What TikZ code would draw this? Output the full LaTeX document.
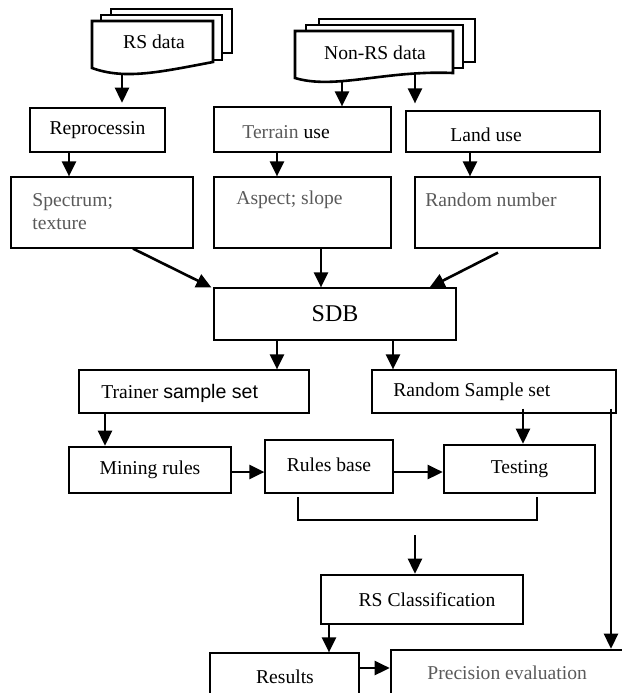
\documentclass[tikz,border=0pt]{standalone}
\usepackage{fontspec}
\setmainfont{Liberation Serif}
\newfontfamily\sampfont{Liberation Sans}
\usetikzlibrary{arrows.meta}
\usepackage{xcolor}
\definecolor{mGrey}{HTML}{5A5A5A}
\tikzset{
  font=\fontsize{9.8}{11.5}\selectfont,
  >={Triangle[length=7.5pt,width=7pt]},
  thinbox/.style={draw, line width=0.6pt, rectangle, inner sep=0pt},
  thickbox/.style={draw, line width=1.3pt, rectangle, inner sep=0pt},
  page/.style={draw, line width=1.3pt, fill=white},
  txt/.style={inner sep=0pt},
  gtxt/.style={inner sep=0pt, text=mGrey, align=left},
  flow/.style={->, line width=1.3pt}
}

\begin{document}
\begin{tikzpicture}[x=0.5pt, y=-0.5pt]
    \useasboundingbox (0,0) rectangle (622,693);
    \clip (0,0) rectangle (622,693);

    % data sources
    \draw[page] (111,9) rectangle (232,53);
    \draw[page] (101,15) rectangle (222,60);
    \draw[page] (92,21) -- (92,68) .. controls (125,80) and (160,72) .. (213,62) -- (213,21) -- cycle;
    \node[txt] (rsdata) at (154,42) {RS data};
    \draw[page] (319,19) rectangle (475,62);
    \draw[page] (306,25) rectangle (463,68);
    \draw[page] (295,31) -- (295,78) .. controls (335,90) and (385,70) .. (453,73) -- (453,31) -- cycle;
    \node[txt] (nonrsdata) at (375,53) {Non-RS data};
    \coordinate (rsfoot) at (122,74);
    \coordinate (nrsfootA) at (342,82);
    \coordinate (nrsfootB) at (415,74);

    % first rows
    \node[thickbox, minimum width=67.5pt, minimum height=22pt] (repro) at (97.5,130) {Reprocessin};
    \node[thinbox, minimum width=88.5pt, minimum height=22.5pt] (terrain) at (302.5,129.5) {};
    \node[txt, anchor=west] (terraintxt) at (242,132) {\textcolor{mGrey}{Terrain} use};
    \node[thinbox, minimum width=97pt, minimum height=20.5pt] (landuse) at (503,131.5) {};
    \node[txt, anchor=west] (landusetxt) at (450,135) {Land use};
    \node[thinbox, minimum width=91pt, minimum height=35.5pt] (spectrum) at (102,212.5) {};
    \node[gtxt, anchor=north west] (spectrumtxt) at (32,193) {Spectrum;\\texture};
    \node[thinbox, minimum width=88.5pt, minimum height=35.5pt] (aspect) at (302.5,212.5) {};
    \node[gtxt, anchor=west] (aspecttxt) at (236,200) {Aspect; slope};
    \node[thinbox, minimum width=92.5pt, minimum height=35.5pt] (randnum) at (507.5,212.5) {};
    \node[gtxt, anchor=west] (randnumtxt) at (425,200) {Random number};

    \node[thinbox, minimum width=121pt, minimum height=26pt, font=\fontsize{12}{14}\selectfont] (sdb) at (335,314) {SDB};

    \node[thinbox, minimum width=115pt, minimum height=21.5pt] (trainer) at (194,391.5) {};
    \node[txt, anchor=west] (trainertxt) at (101,393) {Trainer {\sampfont sample set}};
    \node[thinbox, minimum width=122pt, minimum height=21.5pt] (randsample) at (494,391.5) {};
    \node[txt, anchor=west] (randsampletxt) at (393,392) {Random Sample set};

    \node[thickbox, minimum width=81pt, minimum height=23pt] (mining) at (150,470) {Mining rules};
    \node[thinbox, minimum width=64pt, minimum height=26.5pt] (rulesbase) at (329,466.5) {\raisebox{1.5pt}{Rules base}};
    \node[thickbox, minimum width=75.5pt, minimum height=24pt] (testing) at (519.5,469) {Testing};
    \coordinate (brL) at (298,497);
    \coordinate (brR) at (537,497);
    \coordinate (merge) at (415,535);

    \node[thickbox, minimum width=101pt, minimum height=24.5pt] (rsclass) at (422,599.5) {\hspace{5pt}RS Classification};
    \node[thinbox, minimum width=74.5pt, minimum height=33.5pt] (results) at (284.5,686.5) {};
    \node[txt] (resultstxt) at (285,677) {Results};
    \node[thickbox, minimum width=144.5pt, minimum height=35pt] (precision) at (535.5,685) {};
    \node[gtxt, anchor=west] (precisiontxt) at (427,673) {Precision evaluation};

    % connectors
    \draw[flow, shorten >=2pt] (rsfoot) -- (repro.north -| rsfoot);
    \draw[flow] (nrsfootA) -- (terrain.north -| nrsfootA);
    \draw[flow, shorten >=3.5pt] (nrsfootB) -- (landuse.north -| nrsfootB);
    \draw[flow] ([xshift=-14.25pt]repro.south) -- ([xshift=-14.25pt]repro.south |- spectrum.north);
    \draw[flow] ([xshift=-12.75pt]terrain.south) -- ([xshift=-12.75pt]terrain.south |- aspect.north);
    \draw[flow] ([xshift=-16.5pt]landuse.south) -- ([xshift=-16.5pt]landuse.south |- randnum.north);
    \draw[flow] ([xshift=15.5pt]spectrum.south) -- ([xshift=-1pt]sdb.north west);
    \draw[flow] ([xshift=9.25pt]aspect.south) -- ([xshift=9.25pt]aspect.south |- sdb.north);
    \draw[flow] ([xshift=-4.75pt,yshift=-2pt]randnum.south) -- ([xshift=-13.5pt]sdb.north east);
    \draw[flow] ([xshift=-29pt]sdb.south) -- ([xshift=-29pt]sdb.south |- trainer.north);
    \draw[flow] ([xshift=29pt]sdb.south) -- ([xshift=29pt]sdb.south |- randsample.north);
    \draw[flow] ([xshift=-44.5pt]trainer.south) -- ([xshift=-44.5pt]trainer.south |- mining.north);
    \draw[flow] ([xshift=14.5pt,yshift=2.5pt]randsample.south) -- ([xshift=14.5pt]randsample.south |- testing.north);
    \draw[flow] ([xshift=58.5pt,yshift=2.5pt]randsample.south) -- ([xshift=58.5pt]randsample.south |- precision.north);
    \draw[flow] ([yshift=-1pt]mining.east) -- ([yshift=-1pt]rulesbase.west |- mining.east);
    \draw[flow] ([yshift=-1pt]rulesbase.east |- mining.east) -- ([yshift=-1pt]testing.west |- mining.east);
    \draw[line width=0.9pt] (brL) -- ++(0,23) -| (brR);
    \draw[flow] (merge) -- (rsclass.north -| merge);
    \draw[flow] ([xshift=-46.5pt]rsclass.south) -- ([xshift=-46.5pt]rsclass.south |- results.north);
    \draw[flow] ([yshift=9.25pt]results.east) -- ([yshift=9.25pt]results.east -| precision.west);
\end{tikzpicture}
\end{document}
